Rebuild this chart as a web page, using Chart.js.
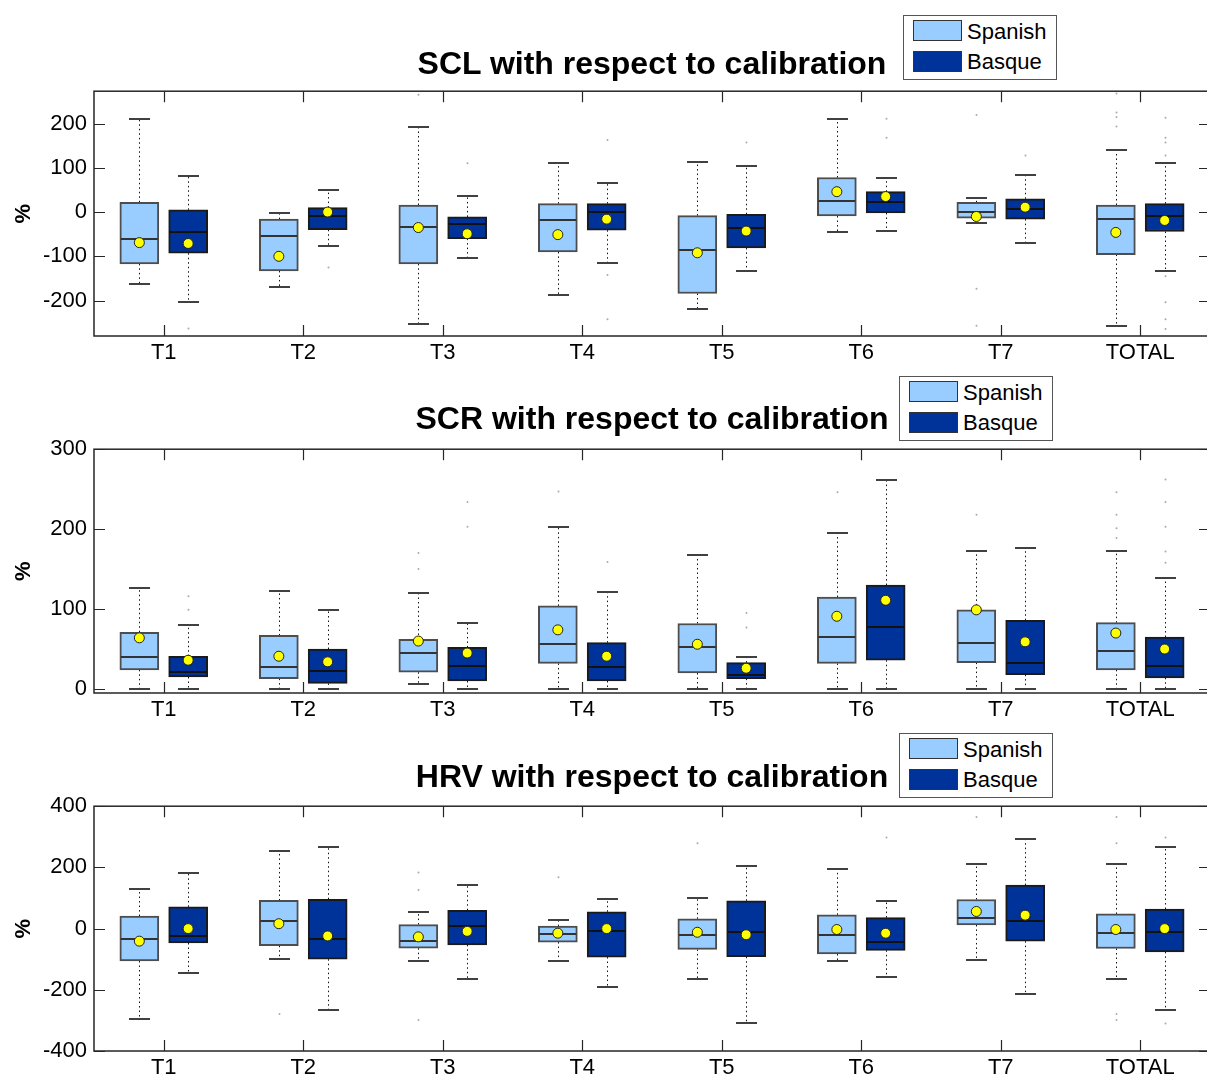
<!DOCTYPE html>
<html>
<head>
<meta charset="utf-8">
<script src="https://cdn.jsdelivr.net/npm/chart.js@4.4.0/dist/chart.umd.min.js"></script>
<style>
  html, body { margin: 0; padding: 0; background: #fff; overflow: hidden; }
  body { width: 1207px; height: 1077px; position: relative; font-family: 'Liberation Sans', Arial, sans-serif; }
  canvas { position: absolute; left: 0; }
  .title { position: absolute; left: 94px; width: 1116px; text-align: center; font-weight: bold;
           font-size: 32px; line-height: 32px; color: #000; white-space: nowrap; }
  .legend { position: absolute; width: 152px; height: 63px; border: 1px solid #555; background: #fff; z-index: 2; }
  .legend .sw { position: absolute; left: 9px; width: 47px; height: 19px; border: 1px solid #333; }
  .legend .lab { position: absolute; left: 63px; font-size: 22px; line-height: 22px; color: #000; }
</style>
</head>
<body>

<canvas id="scl" width="1216" height="301" style="top:71px"></canvas>
<canvas id="scr" width="1216" height="300" style="top:429px"></canvas>
<canvas id="hrv" width="1216" height="301" style="top:786px"></canvas>

<div class="title" style="top:47px">SCL with respect to calibration</div>
<div class="legend" style="left:903px; top:15px">
  <div class="sw" style="top:4px; background:#99ccff"></div><div class="lab" style="top:5px">Spanish</div>
  <div class="sw" style="top:35px; background:#003399"></div><div class="lab" style="top:35px">Basque</div>
</div>

<div class="title" style="top:402px">SCR with respect to calibration</div>
<div class="legend" style="left:899px; top:376px">
  <div class="sw" style="top:4px; background:#99ccff"></div><div class="lab" style="top:5px">Spanish</div>
  <div class="sw" style="top:35px; background:#003399"></div><div class="lab" style="top:35px">Basque</div>
</div>

<div class="title" style="top:760px">HRV with respect to calibration</div>
<div class="legend" style="left:899px; top:733px">
  <div class="sw" style="top:4px; background:#99ccff"></div><div class="lab" style="top:5px">Spanish</div>
  <div class="sw" style="top:35px; background:#003399"></div><div class="lab" style="top:35px">Basque</div>
</div>

<script>
Chart.defaults.font.family = "'Liberation Sans', Arial, sans-serif";
Chart.defaults.color = '#000';

const categories = ['T1', 'T2', 'T3', 'T4', 'T5', 'T6', 'T7', 'TOTAL'];

// box stats per task: [lower whisker, Q1, median, Q3, upper whisker]
const sclSpanish = [[-162, -117, -61, 22, 211], [-170, -133, -54, -16, -2], [-254, -117, -33, 16, 192], [-187, -90, -19, 19, 110],
                    [-219, -184, -86, -8, 113], [-46, -9, 25, 78, 211], [-25, -14, 1, 22, 32], [-257, -96, -16, 16, 140]];
const sclSpanishMean = [-69, -100, -35, -51, -92, 46, -10, -46];
const sclSpanishOut = [[], [], [265], [], [], [], [219, -173, -257], [268, 225, 215, 193]];
const sclBasque = [[-203, -93, -46, 5, 81], [-76, -40, -8, 10, 49], [-103, -60, -28, -11, 37], [-114, -41, 1, 19, 65],
                   [-133, -81, -37, -5, 103], [-43, -2, 22, 46, 78], [-71, -16, 6, 30, 84], [-133, -44, -9, 19, 110]];
const sclBasqueMean = [-71, 0, -49, -16, -43, 35, 11, -19];
const sclBasqueOut = [[-263], [-125], [110], [163, -142, -242], [157], [211, 168], [128], [213, 168, 157, 128, -145, -204, -242, -264]];
const sclTicks = [-200, -100, 0, 100, 200];

const scrSpanish = [[0, 24, 40, 71, 126], [0, 13, 28, 67, 123], [6, 21, 45, 62, 120], [0, 32, 56, 104, 203],
                    [0, 20, 52, 82, 168], [0, 32, 65, 115, 195], [0, 33, 58, 99, 173], [0, 24, 47, 83, 173]];
const scrSpanishMean = [64, 41, 60, 74, 56, 91, 99, 70];
const scrSpanishOut = [[], [], [170, 150], [247], [], [246], [218], [246, 218, 201, 189]];
const scrBasque = [[0, 15, 21, 41, 80], [0, 7, 23, 50, 99], [0, 10, 29, 52, 82], [0, 10, 28, 58, 121],
                   [0, 13, 18, 33, 40], [0, 36, 77, 130, 262], [0, 18, 33, 86, 176], [0, 14, 29, 65, 139]];
const scrBasqueMean = [36, 34, 45, 41, 26, 111, 59, 50];
const scrBasqueOut = [[116, 99], [], [234, 203], [159], [95, 77], [], [], [262, 234, 203, 172, 158]];
const scrTicks = [0, 100, 200, 300];

const hrvSpanish = [[-297, -106, -35, 41, 128], [-100, -56, 25, 92, 255], [-106, -64, -39, 13, 55], [-106, -44, -19, 8, 27],
                    [-165, -68, -20, 32, 100], [-106, -83, -20, 45, 195], [-103, 12, 35, 95, 210], [-165, -65, -15, 48, 210]];
const hrvSpanishMean = [-41, 16, -27, -15, -12, -3, 56, -3];
const hrvSpanishOut = [[], [-279], [183, 126, -299], [168], [279], [], [365], [365, 279, -279, -299]];
const hrvBasque = [[-146, -47, -24, 71, 183], [-265, -100, -35, 96, 267], [-165, -53, 9, 60, 144], [-191, -93, -8, 55, 96],
                   [-310, -92, -12, 91, 203], [-159, -71, -44, 36, 91], [-215, -41, 24, 142, 292], [-266, -76, -12, 64, 266]];
const hrvBasqueMean = [0, -24, -9, 0, -20, -15, 44, 0];
const hrvBasqueOut = [[], [], [], [], [], [298], [], [298, -310]];
const hrvTicks = [-400, -200, 0, 200, 400];

const OFFSET = 0.175;   // box shift from the task position
const BOX_W = 39;
const CAP_W = 21;

const snap = v => Math.round(v) + 0.5;

// whiskers, caps, outliers, medians and the MATLAB style frame
const boxPlugin = {
  id: 'boxes',
  beforeDatasetsDraw(chart) {
    const { ctx, scales: { x, y } } = chart;
    chart.data.datasets.forEach(ds => {
      if (!ds.stats) return;
      ds.stats.forEach((s, i) => {
        const cx = snap(x.getPixelForValue(ds.data[i].x));
        ctx.save();
        ctx.strokeStyle = '#111';
        ctx.lineWidth = 1;
        ctx.setLineDash([1.5, 3]);
        ctx.beginPath();
        ctx.moveTo(cx, y.getPixelForValue(s[3]));
        ctx.lineTo(cx, y.getPixelForValue(s[4]));
        ctx.moveTo(cx, y.getPixelForValue(s[1]));
        ctx.lineTo(cx, y.getPixelForValue(s[0]));
        ctx.stroke();
        ctx.setLineDash([]);
        ctx.strokeStyle = '#404040';
        ctx.lineWidth = 2;
        ctx.beginPath();
        [s[0], s[4]].forEach(v => {
          const py = Math.round(y.getPixelForValue(v));
          ctx.moveTo(cx - CAP_W / 2, py);
          ctx.lineTo(cx + CAP_W / 2, py);
        });
        ctx.stroke();
        ctx.fillStyle = '#aaa';
        ds.outliers[i].forEach(v => {
          ctx.beginPath();
          ctx.arc(cx, y.getPixelForValue(v), 1, 0, Math.PI * 2);
          ctx.fill();
        });
        ctx.restore();
      });
    });
  },
  afterDatasetDraw(chart, args) {
    const ds = chart.data.datasets[args.index];
    if (!ds.stats) return;
    const { ctx, scales: { x, y } } = chart;
    ctx.save();
    ctx.strokeStyle = ds.medianColor;
    ctx.lineWidth = 2;
    ctx.beginPath();
    ds.stats.forEach((s, i) => {
      const cx = x.getPixelForValue(ds.data[i].x);
      const py = Math.round(y.getPixelForValue(s[2]));
      ctx.moveTo(cx - BOX_W / 2 + 1, py);
      ctx.lineTo(cx + BOX_W / 2 - 1, py);
    });
    ctx.stroke();
    ctx.restore();
  },
  afterDraw(chart) {
    const { ctx, chartArea: a, scales: { x, y } } = chart;
    ctx.save();
    ctx.strokeStyle = '#262626';
    ctx.lineWidth = 1.5;
    ctx.strokeRect(a.left, a.top, a.right - a.left, a.bottom - a.top);
    ctx.lineWidth = 1.2;
    ctx.beginPath();
    x.ticks.forEach(t => {
      const px = snap(x.getPixelForValue(t.value));
      ctx.moveTo(px, a.top); ctx.lineTo(px, a.top + 11);
      ctx.moveTo(px, a.bottom); ctx.lineTo(px, a.bottom - 11);
    });
    y.ticks.forEach(t => {
      const py = snap(y.getPixelForValue(t.value));
      ctx.moveTo(a.left, py); ctx.lineTo(a.left + 11, py);
      ctx.moveTo(a.right, py); ctx.lineTo(a.right - 11, py);
    });
    ctx.stroke();
    ctx.restore();
  }
};

function boxDataset(label, stats, outliers, shift, fill, border, median) {
  return {
    type: 'bar',
    label,
    data: stats.map((s, i) => ({ x: i + 1 + shift, y: [s[1], s[3]] })),
    stats,
    outliers,
    medianColor: median,
    backgroundColor: fill,
    borderColor: border,
    borderWidth: 2,
    borderSkipped: false,
    barThickness: BOX_W,
    grouped: false,
    order: 1
  };
}

function meanDataset(label, means, shift) {
  return {
    type: 'line',
    label,
    data: means.map((m, i) => ({ x: i + 1 + shift, y: m })),
    showLine: false,
    pointRadius: 5,
    pointHoverRadius: 5,
    pointBackgroundColor: '#ffff00',
    pointBorderColor: '#222',
    pointBorderWidth: 1,
    order: 0
  };
}

function createPanel(id, spanish, spanishMean, spanishOut, basque, basqueMean, basqueOut, yMin, yMax, yTicks) {
  return new Chart(document.getElementById(id), {
    type: 'bar',
    data: {
      datasets: [
        meanDataset('Spanish mean', spanishMean, -OFFSET),
        meanDataset('Basque mean', basqueMean, OFFSET),
        boxDataset('Spanish', spanish, spanishOut, -OFFSET, '#99ccff', '#4d4d4d', '#333'),
        boxDataset('Basque', basque, basqueOut, OFFSET, '#003399', '#1a1a1a', '#111')
      ]
    },
    options: {
      responsive: false,
      animation: false,
      events: [],
      layout: { padding: { top: 5, right: 6, left: 0, bottom: 0 } },
      plugins: {
        legend: { display: false },
        tooltip: { enabled: false }
      },
      scales: {
        x: {
          type: 'linear',
          min: 0.5,
          max: 8.5,
          offset: false,
          grid: { display: false, drawTicks: false },
          border: { display: false },
          afterBuildTicks: s => { s.ticks = categories.map((c, i) => ({ value: i + 1 })); },
          afterFit: s => { s.height = 36; },
          ticks: {
            color: '#000',
            font: { size: 22 },
            padding: 4,
            autoSkip: false,
            maxRotation: 0,
            callback: v => categories[v - 1]
          }
        },
        y: {
          min: yMin,
          max: yMax,
          grid: { display: false, drawTicks: false },
          border: { display: false },
          afterBuildTicks: s => { s.ticks = yTicks.map(v => ({ value: v })); },
          afterFit: s => { s.width = 94; },
          ticks: { color: '#000', font: { size: 22 }, padding: 7 },
          title: { display: true, text: '%', color: '#000', font: { size: 22, weight: 'bold' }, padding: { top: 11 } }
        }
      }
    },
    plugins: [boxPlugin]
  });
}

createPanel('scl', sclSpanish, sclSpanishMean, sclSpanishOut, sclBasque, sclBasqueMean, sclBasqueOut, -280, 273, sclTicks);
createPanel('scr', scrSpanish, scrSpanishMean, scrSpanishOut, scrBasque, scrBasqueMean, scrBasqueOut, -5, 300, scrTicks);
createPanel('hrv', hrvSpanish, hrvSpanishMean, hrvSpanishOut, hrvBasque, hrvBasqueMean, hrvBasqueOut, -400, 400, hrvTicks);
</script>
</body>
</html>
